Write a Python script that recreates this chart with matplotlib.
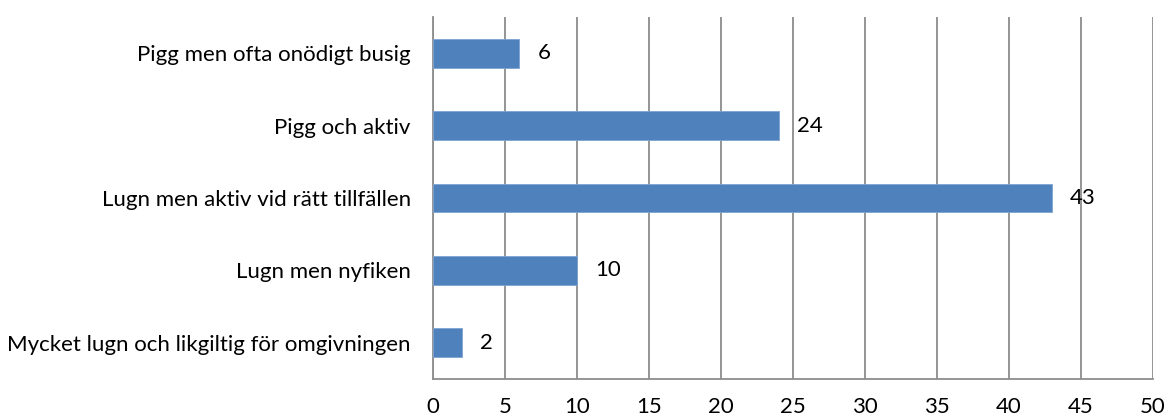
import matplotlib
matplotlib.use('Agg')
import matplotlib.pyplot as plt

plt.rcParams['font.family'] = ['Lato', 'DejaVu Sans']

kategorier = ['Mycket lugn och likgiltig för omgivningen', 'Lugn men nyfiken',
              'Lugn men aktiv vid rätt tillfällen', 'Pigg och aktiv',
              'Pigg men ofta onödigt busig']
antal = [2, 10, 43, 24, 6]
xticks = list(range(0, 51, 5))

fig = plt.figure(figsize=(11.68, 4.19), dpi=100)
ax = fig.add_axes([433 / 1168, 1 - 379 / 419, 720 / 1168, 362 / 419])

ypos = range(len(kategorier))
ax.barh(ypos, antal, height=0.4, color='#4F81BD', edgecolor='#7FA3D3', linewidth=0.6, zorder=3)

for y, v in zip(ypos, antal):
    ax.annotate(str(v), (v, y), xytext=(13, 0), textcoords='offset points',
                va='center', ha='left', fontsize=16, color='black', zorder=4)

ax.set_xlim(0, 50)
ax.set_ylim(-0.5, len(kategorier) - 0.5)
ax.set_xticks(xticks)
ax.set_yticks(list(ypos))
ax.set_yticklabels(kategorier)
ax.tick_params(axis='both', length=0, labelsize=16, colors='black')
ax.tick_params(axis='y', pad=16)
ax.tick_params(axis='x', pad=13)

ax.grid(axis='x', color='#8C8C8C', linewidth=1.3, zorder=1)
for side in ['top', 'right']:
    ax.spines[side].set_visible(False)
for side in ['left', 'bottom']:
    ax.spines[side].set_color('#8C8C8C')
    ax.spines[side].set_linewidth(1.3)

fig.savefig('out.png', dpi=100)
